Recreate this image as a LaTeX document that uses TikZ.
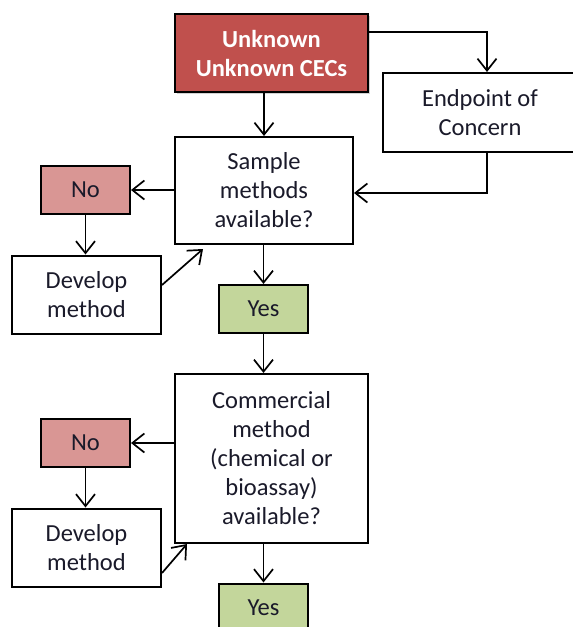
\documentclass[tikz,border=0pt]{standalone}
\usepackage{fontspec}
\setmainfont{Carlito}
\usetikzlibrary{arrows.meta,shadows,calc}
\definecolor{topred}{HTML}{C0504D}
\definecolor{nored}{HTML}{D99694}
\definecolor{yesgreen}{HTML}{C3D69B}
\definecolor{txt}{HTML}{1A1A2A}
\tikzset{
  box/.style={draw=black, line width=2pt, fill=white, align=center, inner sep=2pt,
    font=\fontsize{24.5}{29}\selectfont, text=txt},
  topbox/.style={box, fill=topred, text=white, font=\fontsize{24.5}{29}\selectfont\bfseries,
    drop shadow={opacity=0.35, shadow xshift=2pt, shadow yshift=-2pt}},
  nobox/.style={box, fill=nored, minimum width=89pt, minimum height=48pt},
  yesbox/.style={box, fill=yesgreen, minimum width=89pt, minimum height=48pt},
  devbox/.style={box, minimum width=149pt, minimum height=78pt},
  arr/.style={line width=1.7pt, -{Straight Barb[length=12pt,width=19pt,line width=1.7pt]}}
}
\begin{document}
\begin{tikzpicture}[x=1pt,y=-1pt]
\useasboundingbox (0,0) rectangle (573,627);
\begin{scope}
\clip (0,0) rectangle (573,627);
\node[topbox, minimum width=193pt, minimum height=78pt] (top) at (271.5,53) {Unknown\\Unknown CECs};
\node[box, minimum width=194pt, minimum height=79pt] (ep) at (480,112.5) {Endpoint of\\Concern};
\node[box, minimum width=178pt, minimum height=107pt] (sample) at (264,190.5) {Sample\\methods\\available?};
\node[nobox] (no1) at (85.5,190) {No};
\node[devbox] (dev1) at (86.5,294.5) {Develop\\method};
\node[yesbox] (yes1) at (263.5,309) {Yes};
\node[box, minimum width=193pt, minimum height=169pt] (comm) at (271.5,458.5) {Commercial\\method\\(chemical or\\bioassay)\\available?};
\node[nobox] (no2) at (85.5,443) {No};
\node[devbox] (dev2) at (86.5,547.5) {Develop\\method};
\node[yesbox] (yes2) at (263.5,607.5) {Yes};
\coordinate (d1end) at (203,249);
\coordinate (d2end) at (187,544);

\draw[arr] ([yshift=21pt]top.east) -| ([xshift=7pt]ep.north);
\draw[arr] (top.south -| sample.north) -- (sample.north);
\draw[arr] ([xshift=7pt]ep.south) |- ([yshift=-2.5pt]sample.east);
\draw[arr] (sample.west |- no1.east) -- (no1.east);
\draw[arr] (no1.south) -- (dev1.north -| no1.south);
\draw[arr] ([yshift=9.5pt]dev1.east) -- (d1end);
\draw[arr] (sample.south -| yes1.north) -- (yes1.north);
\draw[arr] (yes1.south) -- (comm.north -| yes1.south);
\draw[arr] (comm.west |- no2.east) -- (no2.east);
\draw[arr] (no2.south) -- (dev2.north -| no2.south);
\draw[arr] ([yshift=-25.5pt]dev2.east) -- (d2end);
\draw[arr] (comm.south -| yes2.north) -- (yes2.north);
\end{scope}
\end{tikzpicture}
\end{document}
